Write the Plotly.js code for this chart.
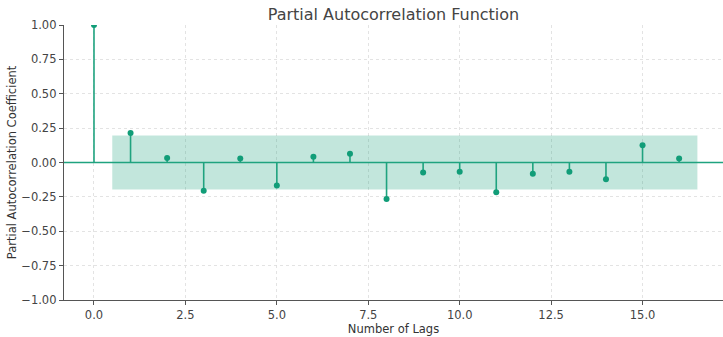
<!DOCTYPE html>
<html><head><meta charset="utf-8">
<script src="https://cdn.plot.ly/plotly-3.0.1.min.js"></script>
<style>html,body{margin:0;padding:0;background:#fff}#c{width:723px;height:337px}</style>
</head><body><div id="c"></div>
<script>
const lags = [0,1,2,3,4,5,6,7,8,9,10,11,12,13,14,15,16];
const pacf = [1.0,0.215,0.033,-0.205,0.03,-0.168,0.042,0.064,-0.265,-0.072,-0.067,-0.217,-0.081,-0.067,-0.122,0.125,0.03];
const confLevel = 0.196;
const bandLags = [0.5, 16.5];
const xTicks = [0,2.5,5,7.5,10,12.5,15];
const xTickText = ['0.0','2.5','5.0','7.5','10.0','12.5','15.0'];
const yTicks = [-1,-0.75,-0.5,-0.25,0,0.25,0.5,0.75,1];
const yTickText = ['\u22121.00','\u22120.75','\u22120.50','\u22120.25','0.00','0.25','0.50','0.75','1.00'];

const green = '#1fa37f';
const stemX = [], stemY = [];
lags.forEach((l,i)=>{ stemX.push(l,l,null); stemY.push(0,pacf[i],null); });

const traces = [
  {x:[bandLags[0],bandLags[1],bandLags[1],bandLags[0],bandLags[0]],
   y:[confLevel,confLevel,-confLevel,-confLevel,confLevel],
   mode:'lines', fill:'toself', fillcolor:'rgba(31,163,127,0.27)',
   line:{width:0}, hoverinfo:'skip'},
  {x:[-5,30], y:[0,0], mode:'lines', line:{color:green,width:1.6}, hoverinfo:'skip'},
  {x:stemX, y:stemY, mode:'lines', line:{color:green,width:1.6}},
  {x:lags, y:pacf, mode:'markers', marker:{color:'#119d78',size:6}}
];

const axFont = {family:'DejaVu Sans, sans-serif', size:11.5, color:'#444'};
const layout = {
  width:723, height:337,
  margin:{l:64,r:0,t:25,b:37},
  showlegend:false,
  plot_bgcolor:'#fff', paper_bgcolor:'#fff',
  font:{family:'DejaVu Sans, sans-serif', color:'#444'},
  title:{text:'Partial Autocorrelation Function', x:0.5, xref:'paper', xanchor:'center', y:0.958, yref:'container', yanchor:'middle',
         font:{family:'DejaVu Sans, sans-serif', size:16, color:'#444'}},
  xaxis:{range:[-0.82,17.2], tickvals:xTicks, ticktext:xTickText, tickfont:axFont,
         showgrid:true, gridcolor:'#dcdcdc', griddash:'dot', gridwidth:0.8,
         zeroline:false, showline:true, linecolor:'#555', linewidth:1.2,
         ticks:'outside', ticklen:4, tickcolor:'#555',
         title:{text:'Number of Lags', font:{family:'DejaVu Sans, sans-serif', size:11.5, color:'#333'}, standoff:1}},
  yaxis:{range:[-1,1], tickvals:yTicks, ticktext:yTickText, tickfont:axFont,
         showgrid:true, gridcolor:'#dcdcdc', griddash:'dot', gridwidth:0.8,
         zeroline:false, showline:true, linecolor:'#555', linewidth:1.2,
         ticks:'outside', ticklen:4, tickcolor:'#555',
         title:{text:'Partial Autocorrelation Coefficient', font:{family:'DejaVu Sans, sans-serif', size:11.5, color:'#333'}, standoff:2}}
};
Plotly.newPlot('c', traces, layout, {staticPlot:true, displayModeBar:false});
</script></body></html>
